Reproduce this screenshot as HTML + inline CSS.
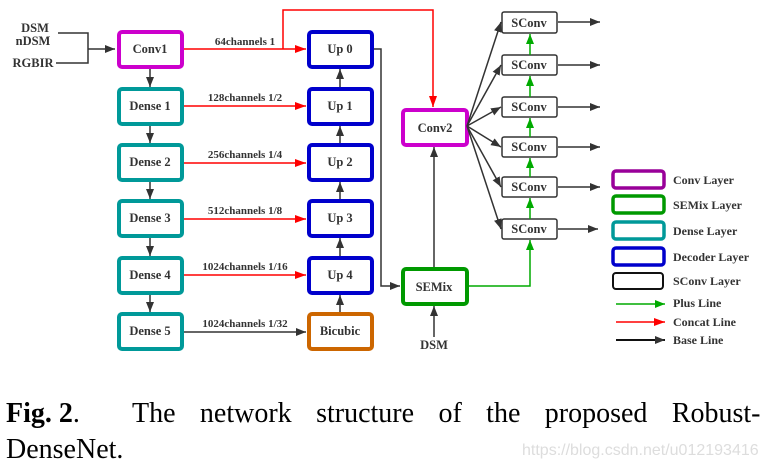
<!DOCTYPE html>
<html><head><meta charset="utf-8"><style>
body{margin:0;background:#fff;width:765px;height:467px;overflow:hidden}
svg{display:block}
.t{font-family:"Liberation Serif",serif;font-weight:bold;font-size:12.5px;fill:#333}
.s{font-family:"Liberation Serif",serif;font-weight:bold;font-size:11px;fill:#333}
.l{font-family:"Liberation Serif",serif;font-size:12px;fill:#333;font-weight:bold}
</style></head><body>
<svg width="765" height="467" viewBox="0 0 765 467">
<defs>
<marker id="k" markerWidth="10" markerHeight="8" refX="10" refY="4" orient="auto" markerUnits="userSpaceOnUse"><path d="M0,0L10,4L0,8z" fill="#333"/></marker>
<marker id="r" markerWidth="11" markerHeight="8" refX="11" refY="4" orient="auto" markerUnits="userSpaceOnUse"><path d="M0,0L11,4L0,8z" fill="#f00"/></marker>
<marker id="g" markerWidth="10" markerHeight="8" refX="10" refY="4" orient="auto" markerUnits="userSpaceOnUse"><path d="M0,0L10,4L0,8z" fill="#0a0"/></marker>
</defs>
<text class="t" x="35" y="32" text-anchor="middle">DSM</text>
<text class="t" x="33" y="45" text-anchor="middle">nDSM</text>
<text class="t" x="33" y="67" text-anchor="middle">RGBIR</text>
<path d="M58,33H88V63H56M88,49H115" fill="none" stroke="#333" stroke-width="1.5" marker-end="url(#k)"/>
<g fill="none" stroke-width="4">
<rect x="119" y="32" width="63" height="35" rx="3" stroke="#c0c"/>
<rect x="119" y="89" width="63" height="35" rx="3" stroke="#099"/>
<rect x="119" y="145" width="63" height="35" rx="3" stroke="#099"/>
<rect x="119" y="201" width="63" height="35" rx="3" stroke="#099"/>
<rect x="119" y="258" width="63" height="35" rx="3" stroke="#099"/>
<rect x="119" y="314" width="63" height="35" rx="3" stroke="#099"/>
<rect x="309" y="32" width="63" height="35" rx="3" stroke="#00c"/>
<rect x="309" y="89" width="63" height="35" rx="3" stroke="#00c"/>
<rect x="309" y="145" width="63" height="35" rx="3" stroke="#00c"/>
<rect x="309" y="201" width="63" height="35" rx="3" stroke="#00c"/>
<rect x="309" y="258" width="63" height="35" rx="3" stroke="#00c"/>
<rect x="309" y="314" width="63" height="35" rx="3" stroke="#c60"/>
<rect x="403" y="110" width="64" height="35" rx="3" stroke="#c0c"/>
<rect x="403" y="269" width="64" height="35" rx="3" stroke="#090"/>
</g>
<g class="t" text-anchor="middle">
<text x="150" y="53">Conv1</text>
<text x="150" y="110">Dense 1</text>
<text x="150" y="166">Dense 2</text>
<text x="150" y="222">Dense 3</text>
<text x="150" y="279">Dense 4</text>
<text x="150" y="335">Dense 5</text>
<text x="340" y="53">Up 0</text>
<text x="340" y="110">Up 1</text>
<text x="340" y="166">Up 2</text>
<text x="340" y="222">Up 3</text>
<text x="340" y="279">Up 4</text>
<text x="340" y="335">Bicubic</text>
<text x="435" y="132">Conv2</text>
<text x="434" y="291">SEMix</text>
<text x="434" y="349">DSM</text>
</g>
<g stroke="#333" stroke-width="1.5" marker-end="url(#k)">
<line x1="150" y1="69" x2="150" y2="87"/>
<line x1="150" y1="126" x2="150" y2="143"/>
<line x1="150" y1="182" x2="150" y2="199"/>
<line x1="150" y1="238" x2="150" y2="256"/>
<line x1="150" y1="295" x2="150" y2="312"/>
<line x1="340" y1="87" x2="340" y2="69"/>
<line x1="340" y1="143" x2="340" y2="126"/>
<line x1="340" y1="199" x2="340" y2="182"/>
<line x1="340" y1="256" x2="340" y2="238"/>
<line x1="340" y1="312" x2="340" y2="295"/>
<line x1="184" y1="332" x2="306" y2="332"/>
<line x1="434" y1="267" x2="434" y2="147"/>
<line x1="434" y1="337" x2="434" y2="306"/>
<path d="M374,49H381V286H400" fill="none"/>
</g>
<g stroke="#f00" stroke-width="1.5" fill="none" marker-end="url(#r)">
<line x1="184" y1="49" x2="306" y2="49"/>
<line x1="184" y1="106" x2="306" y2="106"/>
<line x1="184" y1="163" x2="306" y2="163"/>
<line x1="184" y1="219" x2="306" y2="219"/>
<line x1="184" y1="275" x2="306" y2="275"/>
<path d="M283,49V10H433V107"/>
</g>
<g class="s" text-anchor="middle">
<text x="245" y="45">64channels 1</text>
<text x="245" y="101">128channels 1/2</text>
<text x="245" y="158">256channels 1/4</text>
<text x="245" y="214">512channels 1/8</text>
<text x="245" y="270">1024channels 1/16</text>
<text x="245" y="327">1024channels 1/32</text>
</g>
<g fill="#fff" stroke="#333" stroke-width="1.5">
<rect x="502" y="12" width="55" height="21" rx="2"/>
<rect x="502" y="55" width="55" height="20" rx="2"/>
<rect x="502" y="97" width="55" height="20" rx="2"/>
<rect x="502" y="137" width="55" height="20" rx="2"/>
<rect x="502" y="177" width="55" height="20" rx="2"/>
<rect x="502" y="219" width="55" height="20" rx="2"/>
</g>
<g class="t" text-anchor="middle">
<text x="529" y="27">SConv</text>
<text x="529" y="69">SConv</text>
<text x="529" y="111">SConv</text>
<text x="529" y="151">SConv</text>
<text x="529" y="191">SConv</text>
<text x="529" y="233">SConv</text>
</g>
<g stroke="#333" stroke-width="1.5" marker-end="url(#k)">
<line x1="558" y1="22" x2="600" y2="22"/>
<line x1="558" y1="65" x2="600" y2="65"/>
<line x1="558" y1="107" x2="600" y2="107"/>
<line x1="558" y1="147" x2="600" y2="147"/>
<line x1="558" y1="187" x2="600" y2="187"/>
<line x1="558" y1="229" x2="598" y2="229"/>
<line x1="467" y1="126" x2="501" y2="22"/>
<line x1="467" y1="126" x2="501" y2="65"/>
<line x1="467" y1="126" x2="501" y2="107"/>
<line x1="467" y1="126" x2="501" y2="147"/>
<line x1="467" y1="126" x2="501" y2="187"/>
<line x1="467" y1="126" x2="501" y2="229"/>
</g>
<g stroke="#0a0" stroke-width="1.5" fill="none" marker-end="url(#g)">
<line x1="530" y1="55" x2="530" y2="34"/>
<line x1="530" y1="97" x2="530" y2="76"/>
<line x1="530" y1="137" x2="530" y2="118"/>
<line x1="530" y1="177" x2="530" y2="158"/>
<line x1="530" y1="219" x2="530" y2="198"/>
<path d="M469,286H530V240"/>
</g>
<g fill="none" stroke-width="3.5">
<rect x="613" y="171" width="51" height="17" rx="3" stroke="#909"/>
<rect x="613" y="196" width="51" height="17" rx="3" stroke="#090"/>
<rect x="613" y="222" width="51" height="17" rx="3" stroke="#099"/>
<rect x="613" y="248" width="51" height="17" rx="3" stroke="#00c"/>
<rect x="613" y="273" width="50" height="16" rx="3" stroke="#111" stroke-width="2"/>
</g>
<g class="l">
<text x="673" y="184">Conv Layer</text>
<text x="673" y="209">SEMix Layer</text>
<text x="673" y="235">Dense Layer</text>
<text x="673" y="261">Decoder Layer</text>
<text x="673" y="285">SConv Layer</text>
<text x="673" y="307">Plus Line</text>
<text x="673" y="326">Concat Line</text>
<text x="673" y="344">Base Line</text>
</g>
<line x1="616" y1="304" x2="665" y2="304" stroke="#0a0" stroke-width="1.5" marker-end="url(#g)"/>
<line x1="616" y1="322" x2="665" y2="322" stroke="#f00" stroke-width="1.5" marker-end="url(#r)"/>
<line x1="616" y1="340" x2="665" y2="340" stroke="#111" stroke-width="2" marker-end="url(#k)"/>
<text x="6" y="422" font-family="Liberation Serif,serif" font-size="28" fill="#000"><tspan font-weight="bold">Fig. 2</tspan>.</text>
<text x="132" y="422" font-family="Liberation Serif,serif" font-size="28" fill="#000" style="word-spacing:17.4px">The network structure of the proposed Robust-</text>
<text x="6" y="458" font-family="Liberation Serif,serif" font-size="28" fill="#000">DenseNet.</text>
<text x="522" y="455" font-family="Liberation Sans,sans-serif" font-size="16" fill="#ddd">https://blog.csdn.net/u012193416</text>
</svg>
</body></html>
